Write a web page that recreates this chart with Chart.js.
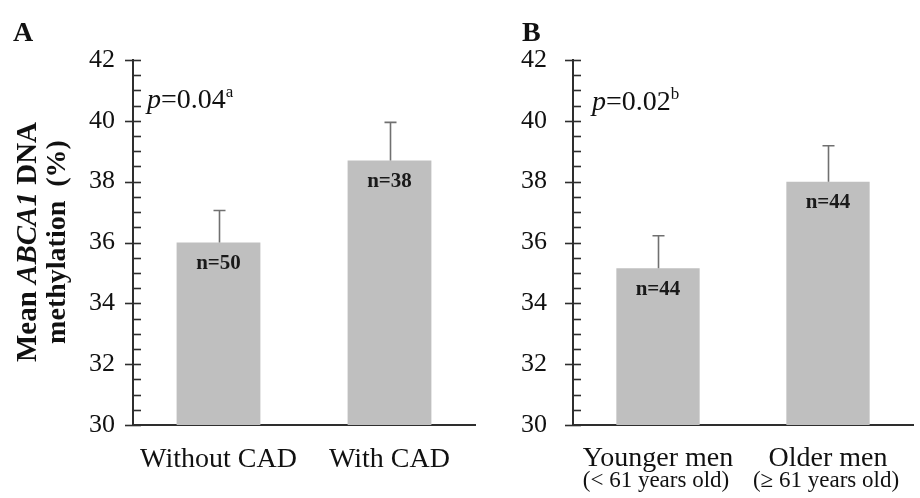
<!DOCTYPE html>
<html>
<head>
<meta charset="utf-8">
<title>ABCA1 DNA methylation</title>
<script src="https://cdn.jsdelivr.net/npm/chart.js@4.4.1/dist/chart.umd.min.js"></script>
<style>
  html, body { margin: 0; padding: 0; background: #fff; }
  #wrap { position: relative; width: 920px; height: 498px; overflow: hidden; }
  canvas { position: absolute; top: 0; }
  #cvA { left: 0; }
  #cvB { left: 480px; }
</style>
</head>
<body>
<div id="wrap">
  <canvas id="cvA" width="480" height="498"></canvas>
  <canvas id="cvB" width="440" height="498"></canvas>
</div>
<script>
// data
const catsA  = ["Without CAD", "With CAD"];
const meanA  = [36.0, 38.7];
const errA   = [1.05, 1.25];
const nA     = [50, 38];

const catsB  = ["Younger men", "Older men"];
const subB   = ["(< 61 years old)", "(\u2265 61 years old)"];
const meanB  = [35.15, 38.0];
const errB   = [1.07, 1.18];
const nB     = [44, 44];

const yMin = 30, yMax = 42, yStep = 2, yMinorStep = 0.5;

const SERIF = '"Liberation Serif", "Times New Roman", serif';
const AXIS  = "#2e2e2e";
const BAR   = "#bfbfbf";
const ERR   = "#707070";

// y-axis ticks: major ones cross the axis, minor ones point inward
const tickMarks = {
  id: "tickMarks",
  afterDraw(chart) {
    const { ctx, chartArea } = chart;
    const y = chart.scales.y;
    const x0 = chartArea.left;
    ctx.save();
    ctx.strokeStyle = AXIS;
    ctx.lineWidth = 1.6;
    for (let v = y.min; v <= y.max + 1e-9; v += yMinorStep) {
      const py = Math.round(y.getPixelForValue(v)) + 0.5;
      const major = Math.abs((v - y.min) % yStep) < 1e-9;
      ctx.beginPath();
      ctx.moveTo(major ? x0 - 8 : x0, py);
      ctx.lineTo(x0 + 8, py);
      ctx.stroke();
    }
    ctx.restore();
  }
};

// upper error bars + n= labels inside bars
const errorBars = {
  id: "errorBars",
  afterDatasetsDraw(chart, args, opts) {
    const { ctx } = chart;
    const y = chart.scales.y;
    const meta = chart.getDatasetMeta(0);
    ctx.save();
    meta.data.forEach((bar, i) => {
      const top = y.getPixelForValue(opts.means[i] + opts.errs[i]);
      const px = Math.round(bar.x) + 0.5;
      ctx.strokeStyle = ERR;
      ctx.lineWidth = 1.6;
      ctx.beginPath();
      ctx.moveTo(px, bar.y);
      ctx.lineTo(px, top);
      ctx.moveTo(px - 6, top);
      ctx.lineTo(px + 6, top);
      ctx.stroke();

      ctx.fillStyle = "#1a1a1a";
      ctx.font = "bold 21px " + SERIF;
      ctx.textAlign = "center";
      ctx.textBaseline = "middle";
      ctx.fillText("n=" + opts.ns[i], bar.x, bar.y + 21);
    });
    ctx.restore();
  }
};

// category labels under the x axis (second line smaller)
const catLabels = {
  id: "catLabels",
  afterDraw(chart, args, opts) {
    const { ctx } = chart;
    const x = chart.scales.x;
    ctx.save();
    ctx.fillStyle = "#111";
    ctx.textAlign = "center";
    ctx.textBaseline = "alphabetic";
    opts.main.forEach((lab, i) => {
      const px = x.getPixelForValue(i);
      ctx.font = "28px " + SERIF;
      ctx.fillText(lab, px, opts.mainY);
      if (opts.sub) {
        ctx.font = "23px " + SERIF;
        ctx.fillText(opts.sub[i], px - 2, opts.subY);
      }
    });
    ctx.restore();
  }
};

// panel letter, p value, y title
function drawRuns(ctx, runs, x, y, align) {
  let w = 0;
  runs.forEach(r => { ctx.font = r.font; w += ctx.measureText(r.t).width; });
  let cx = align === "center" ? x - w / 2 : x;
  runs.forEach(r => {
    ctx.font = r.font;
    ctx.fillText(r.t, cx, y + (r.dy || 0));
    cx += ctx.measureText(r.t).width;
  });
}

const annotations = {
  id: "annotations",
  afterDraw(chart, args, opts) {
    const { ctx, chartArea } = chart;
    ctx.save();
    ctx.fillStyle = "#111";
    ctx.textBaseline = "alphabetic";
    ctx.textAlign = "left";

    ctx.font = "bold 28px " + SERIF;
    ctx.fillText(opts.letter, opts.letterX, 41);

    drawRuns(ctx, [
      { t: "p", font: "italic 28px " + SERIF },
      { t: "=" + opts.p, font: "28px " + SERIF },
      { t: opts.sup, font: "17px " + SERIF, dy: -11 }
    ], chartArea.left + opts.pDx, opts.pY, "left");

    if (opts.yTitle) {
      ctx.translate(0, 242);
      ctx.rotate(-Math.PI / 2);
      drawRuns(ctx, [
        { t: "Mean ", font: "bold 29px " + SERIF },
        { t: "ABCA1", font: "italic bold 29px " + SERIF },
        { t: " DNA", font: "bold 29px " + SERIF }
      ], 0, 36, "center");
      drawRuns(ctx, [
        { t: "methylation  (%)", font: "bold 28px " + SERIF }
      ], 0, 65, "center");
    }
    ctx.restore();
  }
};

function makeChart(id, cats, means, errs, ns, pad, tickPad, extra) {
  return new Chart(document.getElementById(id).getContext("2d"), {
    type: "bar",
    data: {
      labels: cats,
      datasets: [{
        data: means,
        backgroundColor: BAR,
        borderWidth: 0,
        categoryPercentage: 1,
        barPercentage: 0.49
      }]
    },
    options: {
      responsive: false,
      animation: false,
      layout: { padding: pad },
      plugins: {
        legend: { display: false },
        tooltip: { enabled: false },
        errorBars: { means, errs, ns },
        catLabels: extra.labels,
        annotations: extra.notes
      },
      scales: {
        x: {
          grid: { display: false, drawTicks: false },
          ticks: { display: false },
          border: { color: AXIS, width: 2 },
          afterFit: s => { s.height = 73; }
        },
        y: {
          min: yMin,
          max: yMax,
          grid: { display: false, drawTicks: false },
          border: { color: AXIS, width: 2 },
          ticks: {
            stepSize: yStep,
            padding: tickPad,
            color: "#111",
            font: { family: SERIF, size: 26 }
          },
          afterFit: s => { s.width = 58; }
        }
      }
    },
    plugins: [errorBars, tickMarks, catLabels, annotations]
  });
}

makeChart("cvA", catsA, meanA, errA, nA,
  { left: 75, right: 5, top: 60, bottom: 0 }, 18, {
    labels: { main: catsA, mainY: 467 },
    notes: { letter: "A", letterX: 13, p: "0.04", sup: "a", pDx: 14, pY: 108, yTitle: true }
  });

makeChart("cvB", catsB, meanB, errB, nB,
  { left: 35, right: 7, top: 60, bottom: 0 }, 26, {
    labels: { main: catsB, mainY: 466, sub: subB, subY: 487 },
    notes: { letter: "B", letterX: 42, p: "0.02", sup: "b", pDx: 19, pY: 110, yTitle: false }
  });
</script>
</body>
</html>
